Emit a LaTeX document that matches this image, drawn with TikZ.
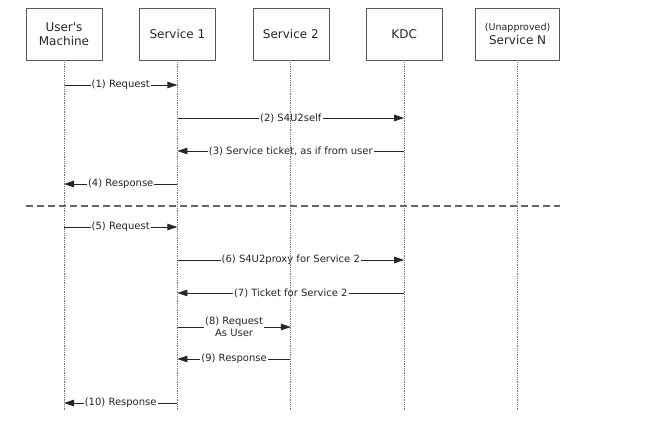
\documentclass[tikz,border=0pt]{standalone}
\usepackage{fontspec}
\setmainfont{DejaVu Sans}
\usetikzlibrary{positioning,arrows.meta}

\begin{document}
\begin{tikzpicture}[
  x=1pt, y=1pt,
  node distance=37pt,
  actor/.style={draw=black!65, minimum width=76pt, minimum height=52pt,
                font=\fontsize{12}{14}\selectfont, align=center, text=black!85},
  life/.style={draw=black!55, densely dotted, line width=0.8pt},
  msg/.style={-{Triangle[length=10pt,width=6.5pt]}, draw=black!85, line width=0.8pt},
  lbl/.style={fill=white, inner sep=1pt, align=center,
              font=\fontsize{10}{11.5}\selectfont, text=black!85},
  sep/.style={draw=black!60, line width=1.2pt, dash pattern=on 7pt off 4pt}
]
\useasboundingbox (0,0) rectangle (647,-433);

\node[actor] (user) at (64,-34) {User\textquotesingle s\\Machine};
\node[actor, right=of user] (svc1) {Service 1};
\node[actor, right=of svc1] (svc2) {Service 2};
\node[actor, right=of svc2] (kdc)  {KDC};
\node[actor, minimum width=84pt, right=33pt of kdc] (svcN)
  {{\fontsize{9.5}{11}\selectfont (Unapproved)}\\Service N};

% messages
\foreach \y/\from/\to/\txt in {
  85/user/svc1/{(1) Request},
  118/svc1/kdc/{(2) S4U2self},
  151/kdc/svc1/{(3) Service ticket, as if from user},
  184/svc1/user/{(4) Response},
  227/user/svc1/{(5) Request},
  260/svc1/kdc/{(6) S4U2proxy for Service 2},
  293/kdc/svc1/{(7) Ticket for Service 2},
  327/svc1/svc2/{(8) Request\\As User},
  359/svc2/svc1/{(9) Response},
  403/svc1/user/{(10) Response}}
  \draw[msg] (\from |- 0,-\y) -- node[lbl]{\txt} (\to |- 0,-\y);

% separator
\draw[sep] (user.west |- 0,-206) -- (svcN.east |- 0,-206);

% lifelines
\foreach \n in {user,svc1,svc2,kdc,svcN}
  \draw[life] (\n.south) -- (\n.south |- 0,-411);
\end{tikzpicture}
\end{document}
